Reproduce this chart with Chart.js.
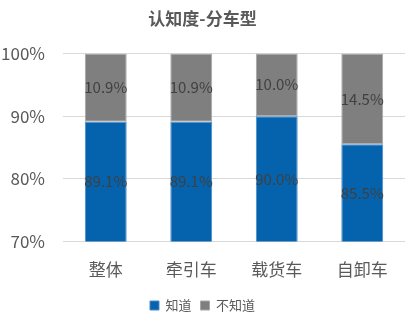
<!DOCTYPE html>
<html>
<head>
<meta charset="utf-8">
<script src="https://cdn.jsdelivr.net/npm/chart.js@4/dist/chart.umd.min.js"></script>
<style>
  html, body { margin: 0; padding: 0; background: #fff; }
  #wrap { width: 410px; height: 325px; }
</style>
</head>
<body>
<div id="wrap"><canvas id="renzhiChart"></canvas></div>
<script>
// 车型分类与认知度（%）
var cheXing = ["整体", "牵引车", "载货车", "自卸车"];
var zhiDao = [89.1, 89.1, 90.0, 85.5];
var buZhiDao = [10.9, 10.9, 10.0, 14.5];
var yTicks = [70, 80, 90, 100];

var ziTi = '"Noto Sans CJK SC", "Noto Sans", sans-serif';

// 在每段柱子可见部分的中间写上数值
var shuZhiBiaoQian = {
   id: "shuZhiBiaoQian",
   afterDatasetsDraw: function (chart) {
      var ctx = chart.ctx;
      var area = chart.chartArea;
      ctx.save();
      ctx.font = "15px " + ziTi;
      ctx.fillStyle = "#404040";
      ctx.textAlign = "center";
      ctx.textBaseline = "middle";
      chart.data.datasets.forEach(function (ds, i) {
         chart.getDatasetMeta(i).data.forEach(function (bar, j) {
            var top = Math.max(Math.min(bar.y, bar.base), area.top);
            var bottom = Math.min(Math.max(bar.y, bar.base), area.bottom);
            ctx.fillText(ds.data[j].toFixed(1) + "%", bar.x, (top + bottom) / 2);
         });
      });
      ctx.restore();
   },
};

var renzhiChart = new Chart(document.getElementById("renzhiChart"), {
   type: "bar",
   data: {
      labels: cheXing,
      datasets: [
         {
            label: "知道",
            data: zhiDao,
            backgroundColor: "#0563AE",
            borderColor: "#4A8ACB",
            borderWidth: 1,
            borderSkipped: false,
            categoryPercentage: 1,
            barPercentage: 0.49,
         },
         {
            label: "不知道",
            data: buZhiDao,
            backgroundColor: "#7F7F7F",
            borderColor: "#A6A6A6",
            borderWidth: 1,
            borderSkipped: false,
            categoryPercentage: 1,
            barPercentage: 0.49,
         },
      ],
   },
   options: {
      responsive: true,
      maintainAspectRatio: false,
      animation: false,
      layout: { padding: { left: 0, right: 5, top: 0, bottom: 3 } },
      scales: {
         x: {
            stacked: true,
            grid: { display: false },
            border: { display: false },
            ticks: {
               color: "#595959",
               font: { family: ziTi, size: 17 },
               padding: 10,
            },
         },
         y: {
            stacked: true,
            min: 70,
            max: 100,
            afterBuildTicks: function (axis) {
               axis.ticks = yTicks.map(function (v) { return { value: v }; });
            },
            afterFit: function (axis) {
               axis.width = 63;
            },
            grid: { color: "#D9D9D9", lineWidth: 1, drawTicks: false },
            border: { display: false },
            ticks: {
               color: "#595959",
               font: { family: ziTi, size: 17 },
               padding: 18,
               callback: function (v) { return v + "%"; },
            },
         },
      },
      plugins: {
         title: {
            display: true,
            text: "认知度-分车型",
            color: "#595959",
            font: { family: ziTi, size: 17, weight: "bold" },
            padding: { top: 8, bottom: 25 },
         },
         legend: {
            position: "bottom",
            labels: {
               color: "#595959",
               font: { family: ziTi, size: 13 },
               boxWidth: 9,
               boxHeight: 9,
               padding: 9,
            },
         },
         tooltip: { enabled: false },
      },
   },
   plugins: [shuZhiBiaoQian],
});
</script>
</body>
</html>
